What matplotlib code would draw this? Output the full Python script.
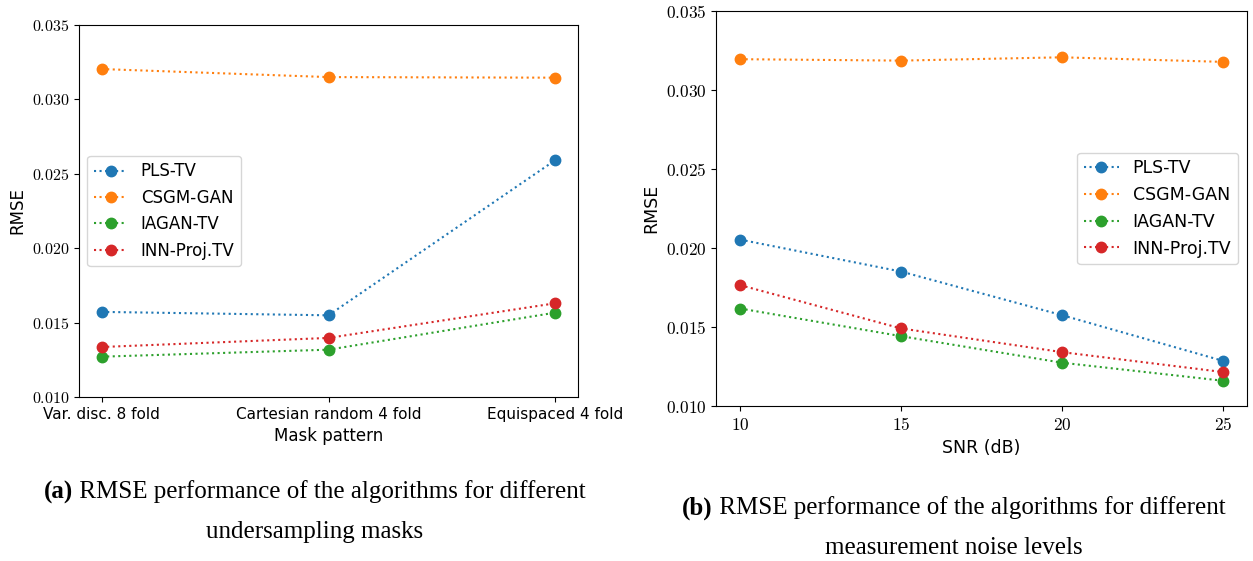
import matplotlib
matplotlib.use("Agg")
import matplotlib.pyplot as plt
from matplotlib.ticker import FuncFormatter

plt.rcParams["mathtext.fontset"] = "cm"

methods = ["PLS-TV", "CSGM-GAN", "IAGAN-TV", "INN-Proj.TV"]
colors = ["#1f77b4", "#ff7f0e", "#2ca02c", "#d62728"]

# (a) mask patterns
masks = ["Var. disc. 8 fold", "Cartesian random 4 fold", "Equispaced 4 fold"]
rmse_mask_pls = [0.01572, 0.01549, 0.02592]
rmse_mask_csgm = [0.03204, 0.03150, 0.03146]
rmse_mask_iagan = [0.01271, 0.01318, 0.01567]
rmse_mask_inn = [0.01336, 0.01397, 0.01630]

# (b) noise levels
snr = [10, 15, 20, 25]
rmse_snr_pls = [0.02053, 0.01851, 0.01575, 0.01286]
rmse_snr_csgm = [0.03195, 0.03186, 0.03207, 0.03178]
rmse_snr_iagan = [0.01617, 0.01442, 0.01274, 0.01160]
rmse_snr_inn = [0.01765, 0.01491, 0.01341, 0.01215]

W, H = 1253, 561
fig = plt.figure(figsize=(W / 100, H / 100), dpi=100)
# axes boxes in pixels: left, top, right, bottom
ax1 = fig.add_axes([79 / W, 1 - 397 / H, (578 - 79) / W, (397 - 25) / H])
ax2 = fig.add_axes([716 / W, 1 - 406 / H, (1247 - 716) / W, (406 - 11) / H])

ytick_fmt = FuncFormatter(lambda v, p: f"${v:.3f}$")

series_a = [rmse_mask_pls, rmse_mask_csgm, rmse_mask_iagan, rmse_mask_inn]
xa = list(range(len(masks)))
for name, vals, c in zip(methods, series_a, colors):
    ax1.plot(xa, vals, ":", marker="o", color=c, lw=1.5, ms=7.5, label=name)
ax1.set_ylim(0.010, 0.035)
ax1.set_xticks(xa)
ax1.set_xticklabels(masks, fontsize=11)
ax1.yaxis.set_major_formatter(ytick_fmt)
ax1.tick_params(axis="y", labelsize=11.5)
ax1.set_xlabel("Mask pattern", fontsize=12)
ax1.set_ylabel("RMSE", fontsize=12)
ax1.legend(loc="center left", fontsize=12)

series_b = [rmse_snr_pls, rmse_snr_csgm, rmse_snr_iagan, rmse_snr_inn]
for name, vals, c in zip(methods, series_b, colors):
    ax2.plot(snr, vals, ":", marker="o", color=c, lw=1.5, ms=7.5, label=name)
ax2.set_ylim(0.010, 0.035)
ax2.set_xticks(snr)
ax2.xaxis.set_major_formatter(FuncFormatter(lambda v, p: f"${v:.0f}$"))
ax2.yaxis.set_major_formatter(ytick_fmt)
ax2.tick_params(labelsize=12.5)
ax2.set_xlabel("SNR (dB)", fontsize=12.5)
ax2.set_ylabel("RMSE", fontsize=12.5)
ax2.legend(loc="center right", fontsize=12.5)

# captions (bold tag + plain text, centred as one line)
serif = "Liberation Serif"
fs = 18
renderer = fig.canvas.get_renderer()


def caption(xc, y, tag, rest):
    t1 = fig.text(0, y, tag, family=serif, weight="bold", fontsize=fs, va="center")
    t2 = fig.text(0, y, " " + rest, family=serif, fontsize=fs, va="center")
    w1 = t1.get_window_extent(renderer).width
    w2 = t2.get_window_extent(renderer).width
    x0 = xc - (w1 + w2) / 2
    t1.set_x(x0 / W)
    t2.set_x((x0 + w1) / W)


def line(xc, y, s):
    fig.text(xc / W, y, s, family=serif, fontsize=fs, ha="center", va="center")


caption(315, 1 - 492 / H, "(a)", "RMSE performance of the algorithms for different")
line(315, 1 - 532 / H, "undersampling masks")
caption(954, 1 - 508 / H, "(b)", "RMSE performance of the algorithms for different")
line(954, 1 - 548 / H, "measurement noise levels")

fig.savefig("out.png", dpi=100)
